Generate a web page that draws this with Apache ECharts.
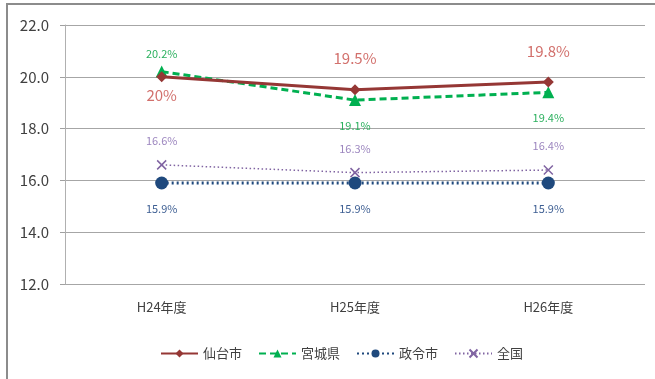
<!DOCTYPE html>
<html>
<head>
<meta charset="utf-8">
<script src="https://cdn.jsdelivr.net/npm/echarts@6/dist/echarts.min.js"></script>
<style>
  html, body { margin: 0; padding: 0; background: #fff; }
  #chart { width: 655px; height: 379px; }
</style>
</head>
<body>
<div id="chart"></div>
<script>
// Fiscal years
const categories = ['H24年度', 'H25年度', 'H26年度'];
// Rates (%) per area
const sendai = [20.0, 19.5, 19.8];
const miyagi = [20.2, 19.1, 19.4];
const seirei = [15.9, 15.9, 15.9];
const zenkoku = [16.6, 16.3, 16.4];

const FONT = '"Noto Sans CJK JP", "Noto Sans", sans-serif';

function fmt(v) {
  return (Math.round(v * 10) % 10 === 0 ? String(Math.round(v)) : v.toFixed(1)) + '%';
}

// Build data items with per-point label placement
function items(values, positions, distances) {
  return values.map((v, i) => ({
    value: v,
    label: { position: positions[i], distance: distances[i] }
  }));
}

const chart = echarts.init(document.getElementById('chart'), null, { renderer: 'canvas' });

chart.setOption({
  animation: false,
  backgroundColor: '#fff',
  textStyle: { fontFamily: FONT },
  graphic: [{
    type: 'rect',
    shape: { x: 7, y: 4, width: 700, height: 420 },
    style: { fill: 'none', stroke: '#8c8c8c', lineWidth: 2 },
    silent: true,
    z: 0
  }],
  grid: { left: 65, right: 10, top: 25, bottom: 95, containLabel: false },
  xAxis: {
    type: 'category',
    data: categories,
    boundaryGap: true,
    axisLine: { show: false },
    axisTick: { show: false },
    axisLabel: { color: '#404040', fontSize: 13, margin: 17, fontFamily: FONT }
  },
  yAxis: {
    type: 'value',
    min: 12,
    max: 22,
    interval: 2,
    axisLine: { show: true, lineStyle: { color: '#b0b0b0', width: 1 } },
    axisTick: { show: true, length: 5, lineStyle: { color: '#a0a0a0' } },
    axisLabel: {
      color: '#404040', fontSize: 15, margin: 16,
      formatter: v => v.toFixed(1), fontFamily: FONT
    },
    splitLine: { lineStyle: { color: '#a6a6a6', width: 1 } }
  },
  legend: {
    bottom: 14,
    left: 155,
    itemWidth: 37,
    itemHeight: 10,
    itemGap: 16,
    textStyle: { color: '#404040', fontSize: 13, fontFamily: FONT },
    data: ['仙台市', '宮城県', '政令市', '全国']
  },
  series: [
    {
      name: '政令市',
      type: 'line',
      data: items(seirei, ['bottom', 'bottom', 'bottom'], [14, 14, 14]),
      symbol: 'circle',
      symbolSize: 13,
      z: 3,
      itemStyle: { color: '#1f497d' },
      lineStyle: { color: '#1f497d', width: 3, type: [2, 3] },
      label: { show: true, color: '#3e5f93', fontSize: 11, formatter: p => fmt(p.value), fontFamily: FONT }
    },
    {
      name: '全国',
      type: 'line',
      data: items(zenkoku, ['top', 'top', 'top'], [13, 13, 13]),
      symbol: 'path://M0,0 L10,10 M10,0 L0,10',
      symbolSize: 9,
      z: 2,
      itemStyle: { color: '#8064a2', borderColor: '#8064a2', borderWidth: 1.5 },
      lineStyle: { color: '#8064a2', width: 1.5, type: [1.5, 2.5] },
      label: { show: true, color: '#9c86bf', fontSize: 11, formatter: p => fmt(p.value), fontFamily: FONT }
    },
    {
      name: '宮城県',
      type: 'line',
      data: items(miyagi, ['top', 'bottom', 'bottom'], [6, 14, 14]),
      symbol: 'triangle',
      symbolSize: 12,
      z: 4,
      itemStyle: { color: '#00b050' },
      lineStyle: { color: '#00b050', width: 3, type: [7, 4] },
      label: { show: true, color: '#2bb05e', fontSize: 11, formatter: p => fmt(p.value), fontFamily: FONT }
    },
    {
      name: '仙台市',
      type: 'line',
      data: items(sendai, ['bottom', 'top', 'top'], [5, 18, 18]),
      symbol: 'diamond',
      symbolSize: 11,
      z: 5,
      itemStyle: { color: '#953735' },
      lineStyle: { color: '#953735', width: 3 },
      label: { show: true, color: '#d2706c', fontSize: 15, formatter: p => fmt(p.value), fontFamily: FONT }
    }
  ]
});
</script>
</body>
</html>
